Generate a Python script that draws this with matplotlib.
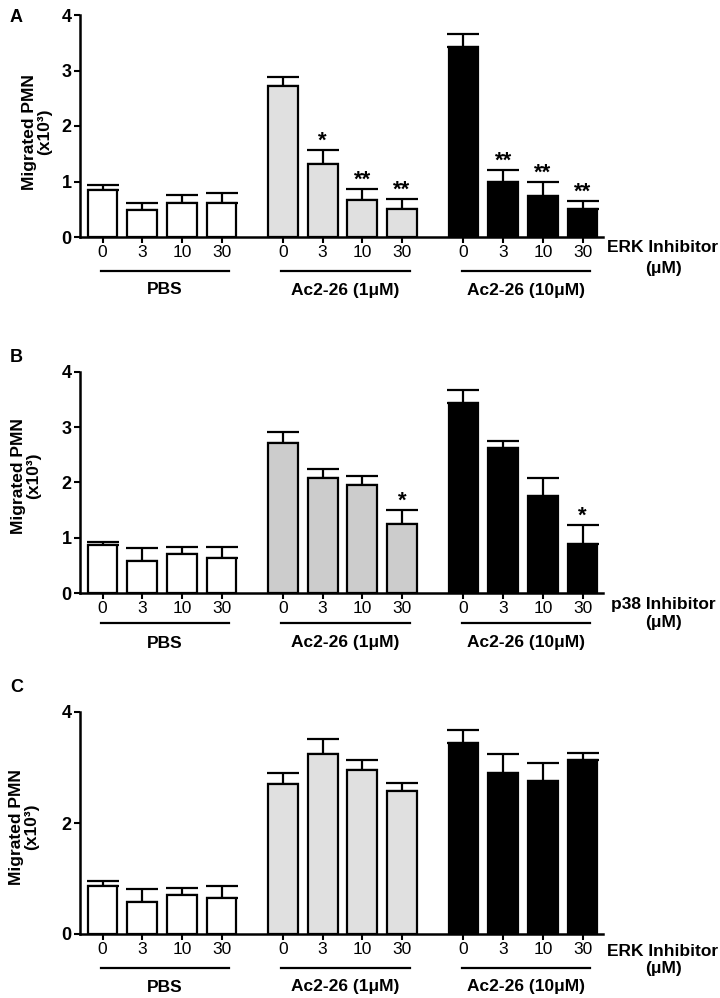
import matplotlib
matplotlib.use("Agg")
import matplotlib.pyplot as plt
import matplotlib.transforms as mtransforms

plt.rcParams['font.family'] = ['Liberation Sans', 'DejaVu Sans']

groups = ["PBS", "Ac2-26 (1μM)", "Ac2-26 (10μM)"]
doses = ["0", "3", "10", "30"]
panel_letters = ["A", "B", "C"]
inhibitors = ["ERK Inhibitor", "p38 Inhibitor", "ERK Inhibitor"]

A_means = [0.85, 0.49, 0.61, 0.62, 2.72, 1.32, 0.67, 0.51, 3.42, 0.99, 0.74, 0.50]
A_err = [0.085, 0.12, 0.15, 0.18, 0.17, 0.25, 0.20, 0.18, 0.24, 0.21, 0.25, 0.15]
A_sig = ["", "", "", "", "", "*", "**", "**", "", "**", "**", "**"]

B_means = [0.86, 0.58, 0.70, 0.63, 2.72, 2.09, 1.95, 1.25, 3.44, 2.63, 1.75, 0.88]
B_err = [0.07, 0.23, 0.13, 0.21, 0.19, 0.15, 0.17, 0.26, 0.23, 0.13, 0.33, 0.35]
B_sig = ["", "", "", "", "", "", "", "*", "", "", "", "*"]

C_means = [0.87, 0.58, 0.71, 0.64, 2.71, 3.24, 2.95, 2.57, 3.44, 2.90, 2.76, 3.13]
C_err = [0.08, 0.23, 0.12, 0.22, 0.19, 0.27, 0.18, 0.15, 0.23, 0.34, 0.32, 0.13]
C_sig = [""] * 12

A_yticks = [0, 1, 2, 3, 4]
B_yticks = [0, 1, 2, 3, 4]
C_yticks = [0, 2, 4]

group_colors = {"A": ["white", "#e0e0e0", "black"],
                "B": ["white", "#cccccc", "black"],
                "C": ["white", "#e0e0e0", "black"]}

W, H = 720, 998
fig = plt.figure(figsize=(W / 100, H / 100), dpi=100)

gap = 1.55
positions = []
for g in range(3):
    for d in range(4):
        positions.append(g * (3 + gap) + d)

ax_left, ax_right = 80, 603
layout = {
    "A": dict(top=15, bot=237, line=271, glab=290, inh1=248, inh2=268, let=18, ylx=37, yly=132),
    "B": dict(top=372, bot=593, line=623, glab=643, inh1=605, inh2=623, let=358, ylx=26, yly=476),
    "C": dict(top=712, bot=934, line=968, glab=987, inh1=952, inh2=969, let=687, ylx=24, yly=827),
}

data = {"A": (A_means, A_err, A_sig, A_yticks),
        "B": (B_means, B_err, B_sig, B_yticks),
        "C": (C_means, C_err, C_sig, C_yticks)}

unit_px = (582.5 - 102.5) / positions[-1]
xlim = (-(102.5 - ax_left) / unit_px, positions[-1] + (ax_right - 582.5) / unit_px)

FS = 12
for key, inh in zip(panel_letters, inhibitors):
    L = layout[key]
    means, errs, sigs, yticks = data[key]
    ax = fig.add_axes([ax_left / W, 1 - L["bot"] / H, (ax_right - ax_left) / W,
                       (L["bot"] - L["top"]) / H])
    colors = []
    for g in range(3):
        colors += [group_colors[key][g]] * 4
    ax.bar(positions, means, width=0.75, color=colors, edgecolor="black",
           linewidth=1.6, zorder=3)
    ax.errorbar(positions, means, yerr=[[0] * 12, errs], fmt="none",
                ecolor="black", elinewidth=1.6, capsize=11.5, capthick=1.6, zorder=2)
    for x, m, e, s in zip(positions, means, errs, sigs):
        if s:
            ax.text(x, m + e + 0.06, s, ha="center", va="baseline",
                    fontsize=16, fontweight="bold")
    ax.set_xlim(*xlim)
    ax.set_ylim(0, 4)
    ax.set_yticks(yticks)
    ax.set_yticklabels([str(t) for t in yticks], fontsize=13, fontweight="bold")
    ax.set_xticks(positions)
    ax.set_xticklabels(doses * 3, fontsize=12.5)
    ax.tick_params(axis="x", length=4, width=1.5, pad=2)
    ax.tick_params(axis="y", length=4, width=1.5, pad=2)
    for sp in ["top", "right"]:
        ax.spines[sp].set_visible(False)
    for sp in ["left", "bottom"]:
        ax.spines[sp].set_linewidth(1.8)

    trans = mtransforms.blended_transform_factory(ax.transData, fig.transFigure)
    for g in range(3):
        x0 = positions[g * 4] - 0.05
        x1 = positions[g * 4 + 3] + 0.2
        ax.plot([x0, x1], [1 - L["line"] / H] * 2, color="black", lw=1.6,
                transform=trans, clip_on=False)
        ax.text((x0 + x1) / 2, 1 - L["glab"] / H, groups[g], transform=trans,
                ha="center", va="center", fontsize=12.5, fontweight="bold")

    fig.text(663 / W, 1 - L["inh1"] / H, inh, ha="center", va="center",
             fontsize=12.5, fontweight="bold")
    fig.text(663 / W, 1 - L["inh2"] / H, "(μM)", ha="center", va="center",
             fontsize=12.5, fontweight="bold")
    fig.text(10 / W, 1 - L["let"] / H, key, ha="left", va="center",
             fontsize=13, fontweight="bold")
    fig.text(L["ylx"] / W, 1 - L["yly"] / H, "Migrated PMN\n(x10³)", rotation=90,
             ha="center", va="center", fontsize=12.5, fontweight="bold",
             multialignment="center", linespacing=1.05)

fig.savefig("out.png", dpi=100)
